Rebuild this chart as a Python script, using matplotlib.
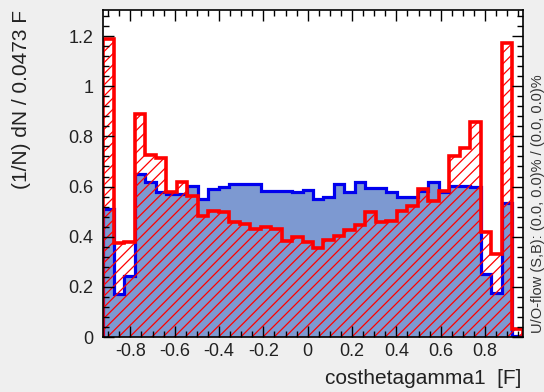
import numpy as np
import matplotlib
matplotlib.use("Agg")
import matplotlib.pyplot as plt
from matplotlib.ticker import MultipleLocator

plt.rcParams['font.family'] = ['Liberation Sans', 'DejaVu Sans']
plt.rcParams['hatch.linewidth'] = 0.9

# histogram binning (40 bins, width 0.0473)
x_min = -0.922
n_bins = 40
bin_width = 0.0473
edges = x_min + bin_width*np.arange(n_bins+1)

# signal (blue, filled) and background (red, hatched), normalised
signal = [0.51, 0.173, 0.245, 0.65, 0.617, 0.58, 0.571, 0.571, 0.604, 0.55,
          0.59, 0.60, 0.611, 0.611, 0.611, 0.584, 0.584, 0.584, 0.577, 0.587,
          0.551, 0.559, 0.609, 0.577, 0.617, 0.594, 0.594, 0.577, 0.559, 0.559,
          0.584, 0.617, 0.58, 0.604, 0.604, 0.597, 0.251, 0.177, 0.533, 0.003]
background = [1.19, 0.373, 0.38, 0.89, 0.727, 0.713, 0.58, 0.617, 0.564, 0.484,
              0.504, 0.50, 0.457, 0.451, 0.431, 0.437, 0.431, 0.384, 0.397, 0.377,
              0.354, 0.387, 0.404, 0.425, 0.446, 0.497, 0.457, 0.464, 0.504, 0.524,
              0.592, 0.544, 0.584, 0.72, 0.755, 0.857, 0.417, 0.331, 1.171, 0.03]

fig = plt.figure(figsize=(5.44, 3.92), dpi=100)
fig.patch.set_facecolor('#efefef')
ax = fig.add_axes([103.3/544, 1-337/392, (522.7-103.3)/544, (337-10)/392])
ax.set_facecolor('white')

ax.stairs(signal, edges, fill=True, facecolor='#7d99d1', edgecolor='none', baseline=0)
ax.stairs(signal, edges, color='#0000ee', linewidth=2.3, baseline=0)
ax.stairs(background, edges, fill=True, facecolor='none', edgecolor='red',
          linewidth=0, hatch='///', baseline=0)
ax.stairs(background, edges, color='red', linewidth=2.6, baseline=0)

ax.set_xlim(edges[0], edges[-1])
ax.set_ylim(0, 1.304)
ax.xaxis.set_major_locator(MultipleLocator(0.2))
ax.xaxis.set_minor_locator(MultipleLocator(0.05))
ax.yaxis.set_major_locator(MultipleLocator(0.2))
ax.yaxis.set_minor_locator(MultipleLocator(0.04))
ax.xaxis.set_major_formatter(lambda v, p: '0' if abs(v) < 1e-9 else ('%g' % round(v, 2)))
ax.yaxis.set_major_formatter(lambda v, p: '%g' % round(v, 2))
ax.tick_params(which='both', direction='in', top=True, right=True, width=1.0, color='black')
ax.tick_params(which='major', length=8, labelsize=13, labelcolor='#222222')
ax.tick_params(which='minor', length=4)
ax.tick_params(axis='x', pad=4)
ax.tick_params(axis='y', pad=7)
for s in ax.spines.values():
    s.set_linewidth(1.2)

fig.text(22/544, 1-10/392, '(1/N) dN / 0.0473 F', rotation=90, ha='center', va='top',
         fontsize=15, color='#222222')
fig.text(521/544, 1-379/392, 'costhetagamma1  [F]', ha='right', va='center',
         fontsize=15, color='#222222')
fig.text(538/544, 1-333/392, 'U/O-flow (S,B): (0.0, 0.0)% / (0.0, 0.0)%', rotation=90,
         ha='center', va='bottom', fontsize=10.5, color='#333333')

fig.savefig('out.png', dpi=100, facecolor=fig.get_facecolor())
